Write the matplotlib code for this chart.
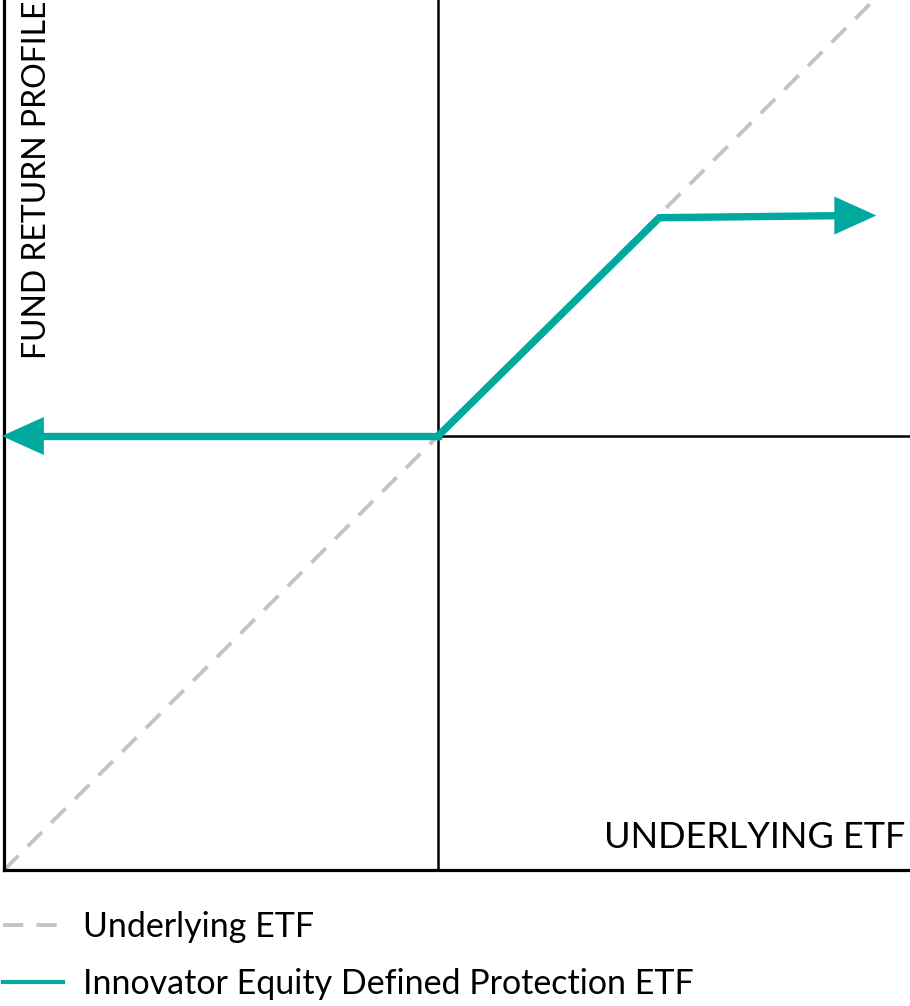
import matplotlib
matplotlib.use('Agg')
import matplotlib.pyplot as plt
from matplotlib.lines import Line2D

plt.rcParams['font.family'] = ['Lato', 'DejaVu Sans']

# -- data -- #
under_x = [-1.0, 1.1]
under_y = [-1.0, 1.1]
fund_x = [0.0, 0.51, 1.01]
fund_y = [0.0, 0.503, 0.508]
floor_x = [0.0, -1.005]
floor_y = [0.0, 0.0]
x_label = 'UNDERLYING ETF'
y_label = 'FUND RETURN PROFILE'
legend_labels = ['Underlying ETF', 'Innovator Equity Defined Protection ETF']

teal = '#00A99D'
grey = '#C4C4C4'

W, H = 910, 1006
fig = plt.figure(figsize=(W / 100, H / 100), dpi=100)
ax = fig.add_axes([4 / W, (H - 870) / H, 906 / W, 870 / H])
ax.set_xlim(-1, (910 - 438) / 434)
ax.set_ylim(-1, 436 / 434)
ax.set_xticks([])
ax.set_yticks([])
for s in ['top', 'right']:
    ax.spines[s].set_visible(False)
for s in ['left', 'bottom']:
    ax.spines[s].set_linewidth(2.3)
    ax.spines[s].set_color('black')

# axes cross
ax.axvline(0, color='black', lw=1.8, zorder=1)
ax.axhline(0, color='black', lw=1.8, zorder=1)

# underlying diagonal
ax.plot(under_x, under_y, color=grey, lw=2.8, dashes=(5.2, 3.4), zorder=2,
        solid_capstyle='butt')

# fund payoff
ax.plot(fund_x[:-1] + [fund_x[-1] - 0.06], fund_y, color=teal, lw=5.3,
        zorder=3, solid_joinstyle='miter')
ax.plot([floor_x[0], floor_x[1] + 0.06], floor_y, color=teal, lw=5.3, zorder=3,
        clip_on=False)
arrow = dict(arrowstyle='-|>,head_length=0.42,head_width=0.19', mutation_scale=72,
             color=teal, lw=0, shrinkA=0, shrinkB=0)
ax.annotate('', xy=(fund_x[-1], fund_y[-1]), xytext=(fund_x[-2], fund_y[-1]),
            arrowprops=arrow, zorder=4, annotation_clip=False)
ax.annotate('', xy=(floor_x[1], floor_y[1]), xytext=(floor_x[0], floor_y[0]),
            arrowprops=arrow, zorder=4, annotation_clip=False)

# axis titles
fig.text(37 / W, 1 - 1 / H, y_label, rotation=90, ha='center', va='top',
         fontsize=23, fontweight='normal')
fig.text(905 / W, 1 - 848 / H, x_label, ha='right', va='baseline',
         fontsize=26, fontweight='normal')

# legend
rows = [(925, dict(color=grey, lw=2.8, dashes=(5.2, 3.4))),
        (982, dict(color=teal, lw=3))]
for (yy, style), lab in zip(rows, legend_labels):
    fig.add_artist(Line2D([3 / W, 63 / W], [1 - yy / H, 1 - yy / H], **style))
    fig.text(83 / W, 1 - (yy + 12) / H, lab, ha='left', va='baseline',
             fontsize=24.5, fontweight='normal')

fig.savefig('out.png', dpi=100)
